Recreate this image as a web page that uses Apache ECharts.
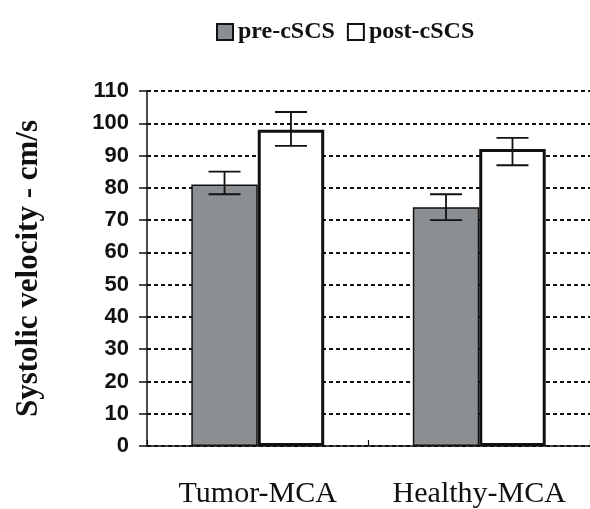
<!DOCTYPE html>
<html>
<head>
<meta charset="utf-8">
<script src="https://cdn.jsdelivr.net/npm/echarts@6/dist/echarts.min.js"></script>
<style>html,body{margin:0;padding:0;background:#fff;}#c{width:590px;height:509px;}</style>
</head>
<body>
<div id="c"></div>
<script>
var categories = ['Tumor-MCA', 'Healthy-MCA'];
var seriesNames = ['pre-cSCS', 'post-cSCS'];
var preValues = [81, 74];
var postValues = [98, 92];
var preErrLow = [78, 70];
var preErrHigh = [85, 78];
var postErrLow = [93, 87];
var postErrHigh = [103.5, 95.5];
var yTicks = [0, 10, 20, 30, 40, 50, 60, 70, 80, 90, 100, 110];

var chart = echarts.init(document.getElementById('c'));

function errData(lo, hi) {
  return categories.map(function (c, i) { return [i, lo[i], hi[i]]; });
}
function errRender(side) {
  return function (params, api) {
    var band = api.size([1, 0])[0];
    var off = side * band * 0.15;
    var pLo = api.coord([api.value(0), api.value(1)]);
    var pHi = api.coord([api.value(0), api.value(2)]);
    var x = pLo[0] + off;
    var half = 16;
    var st = { stroke: '#111', lineWidth: 1.8 };
    return {
      type: 'group',
      children: [
        { type: 'line', shape: { x1: x, y1: pLo[1], x2: x, y2: pHi[1] }, style: st },
        { type: 'line', shape: { x1: x - half, y1: pLo[1], x2: x + half, y2: pLo[1] }, style: st },
        { type: 'line', shape: { x1: x - half, y1: pHi[1], x2: x + half, y2: pHi[1] }, style: st }
      ]
    };
  };
}

chart.setOption({
  animation: false,
  backgroundColor: '#ffffff',
  legend: {
    data: seriesNames,
    left: 211,
    top: 15,
    icon: 'rect',
    itemWidth: 16,
    itemHeight: 16,
    itemGap: 12,
    textStyle: { fontFamily: 'Liberation Serif', fontWeight: 'bold', fontSize: 24, color: '#111' }
  },
  grid: { left: 147, right: -8, top: 91, bottom: 62, containLabel: false },
  xAxis: {
    type: 'category',
    data: categories,
    axisLine: { lineStyle: { color: '#111', width: 1.5 } },
    axisTick: { show: true, inside: true, interval: 0, length: 6, lineStyle: { color: '#111', width: 1.2 } },
    axisLabel: { interval: 0, hideOverlap: false, margin: 33, fontFamily: 'Liberation Serif', fontSize: 30, color: '#111' }
  },
  yAxis: {
    type: 'value',
    min: 0,
    max: 110,
    interval: 10,
    name: 'Systolic velocity - cm/s',
    nameLocation: 'middle',
    nameGap: 103,
    nameTextStyle: { fontFamily: 'Liberation Serif', fontWeight: 'bold', fontSize: 31, color: '#111' },
    axisLine: { show: true, lineStyle: { color: '#111', width: 1.5 } },
    axisTick: { show: true, length: 8, lineStyle: { color: '#111', width: 1.5 } },
    axisLabel: { margin: 18, fontFamily: 'Liberation Sans', fontWeight: 'bold', fontSize: 22, color: '#111',
      formatter: function (v) { return yTicks.indexOf(v) >= 0 ? String(v) : ''; } },
    splitLine: { show: true, lineStyle: { color: '#111', width: 2.2, type: [4, 3] } }
  },
  series: [
    {
      name: seriesNames[0], type: 'bar', data: preValues,
      barGap: '0%', barCategoryGap: '40%',
      itemStyle: { color: '#8c8f92', borderColor: '#111', borderWidth: 1.5 }
    },
    {
      name: seriesNames[1], type: 'bar', data: postValues,
      barGap: '0%', barCategoryGap: '40%',
      itemStyle: { color: '#ffffff', borderColor: '#111', borderWidth: 3 }
    },
    { type: 'custom', data: errData(preErrLow, preErrHigh), renderItem: errRender(-1), z: 5, silent: true },
    { type: 'custom', data: errData(postErrLow, postErrHigh), renderItem: errRender(1), z: 5, silent: true }
  ]
});
</script>
</body>
</html>
